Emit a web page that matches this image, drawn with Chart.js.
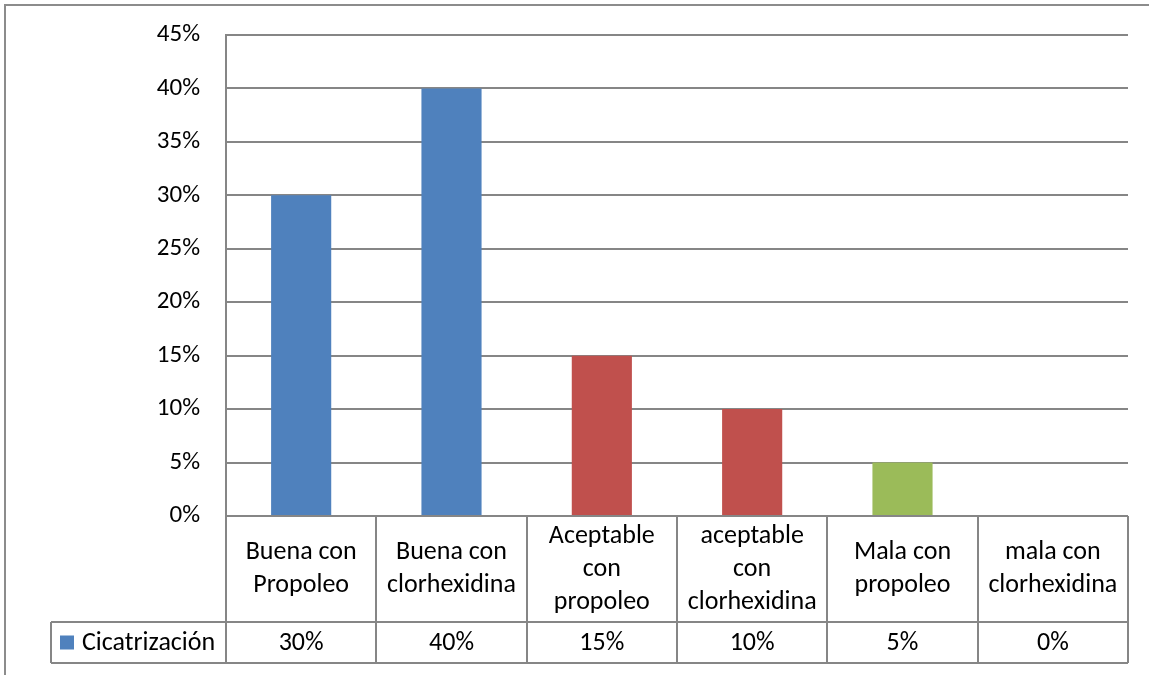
<!DOCTYPE html>
<html>
<head>
<meta charset="utf-8">
<script src="https://cdn.jsdelivr.net/npm/chart.js@4.4.1/dist/chart.umd.min.js"></script>
<style>
  html, body { margin: 0; padding: 0; background: #fff; }
  #wrap { width: 1149px; height: 675px; position: relative; }
</style>
</head>
<body>
<div id="wrap"><canvas id="c" width="1149" height="675"></canvas></div>
<script>
const categories = [
  ["Buena con", "Propoleo"],
  ["Buena con", "clorhexidina"],
  ["Aceptable", "con", "propoleo"],
  ["aceptable", "con", "clorhexidina"],
  ["Mala con", "propoleo"],
  ["mala con", "clorhexidina"]
];
const seriesName = "Cicatrización";
const values = [30, 40, 15, 10, 5, 0];
const barColors = ["#4F81BD", "#4F81BD", "#C0504D", "#C0504D", "#9BBB59", "#9BBB59"];
const yTicks = { min: 0, max: 45, step: 5 };

const FONT = "Carlito, Lato, 'Open Sans', sans-serif";
const FS = 26;
const TFS = 25;
const LINE = "#868686";

const tablePlugin = {
  id: 'dataTable',
  beforeDraw(chart) {
    const ctx = chart.ctx;
    ctx.save();
    ctx.fillStyle = '#fff';
    ctx.fillRect(0, 0, chart.width, chart.height);
    ctx.strokeStyle = '#8c8c8c';
    ctx.lineWidth = 2;
    ctx.beginPath();
    ctx.moveTo(5, chart.height);
    ctx.lineTo(5, 5);
    ctx.lineTo(chart.width, 5);
    ctx.stroke();
    ctx.restore();
  },
  afterDraw(chart) {
    const ctx = chart.ctx;
    const x = chart.scales.x;
    const area = chart.chartArea;
    const n = categories.length;
    const cw = (area.right - area.left) / n;
    const top = area.bottom;
    const headerH = 106;
    const rowH = 41;
    const legendLeft = 51;
    ctx.save();
    ctx.strokeStyle = LINE;
    ctx.lineWidth = 2;
    ctx.beginPath();
    ctx.moveTo(area.left, top); ctx.lineTo(area.right, top);
    ctx.moveTo(legendLeft, top + headerH); ctx.lineTo(area.right, top + headerH);
    ctx.moveTo(legendLeft, top + headerH + rowH); ctx.lineTo(area.right, top + headerH + rowH);
    for (let i = 0; i <= n; i++) {
      const xx = Math.round(area.left + i * cw);
      ctx.moveTo(xx, top); ctx.lineTo(xx, top + headerH + rowH);
    }
    ctx.moveTo(legendLeft, top + headerH); ctx.lineTo(legendLeft, top + headerH + rowH);
    ctx.stroke();

    ctx.fillStyle = '#000';
    ctx.font = FS + 'px ' + FONT;
    ctx.textAlign = 'center';
    ctx.textBaseline = 'middle';
    const lh = 33;
    categories.forEach((lines, i) => {
      const cx = x.getPixelForValue(i);
      const cy = top + headerH / 2;
      const start = cy - (lines.length - 1) * lh / 2;
      lines.forEach((t, j) => ctx.fillText(t, cx, start + j * lh));
      ctx.fillText(values[i] + '%', cx, top + headerH + rowH / 2 + 1);
    });
    const ly = top + headerH + rowH / 2;
    ctx.fillStyle = barColors[0];
    ctx.fillRect(60, ly - 7, 14, 14);
    ctx.fillStyle = '#000';
    ctx.textAlign = 'left';
    ctx.fillText(seriesName, 82, ly + 1);
    ctx.restore();
  }
};

new Chart(document.getElementById('c'), {
  type: 'bar',
  data: {
    labels: categories.map(l => l.join(' ')),
    datasets: [{
      label: seriesName,
      data: values,
      backgroundColor: barColors,
      borderWidth: 0,
      barPercentage: 0.4,
      categoryPercentage: 1.0
    }]
  },
  options: {
    responsive: false,
    animation: false,
    devicePixelRatio: 1,
    layout: { padding: { top: 35, right: 21, bottom: 159, left: 0 } },
    plugins: { legend: { display: false }, tooltip: { enabled: false } },
    scales: {
      x: { display: false },
      y: {
        min: yTicks.min,
        max: yTicks.max,
        afterFit(s) { s.width = 226; s.paddingTop = 0; s.paddingBottom = 0; },
        ticks: {
          stepSize: yTicks.step,
          padding: 26,
          color: '#000',
          font: { family: FONT, size: TFS },
          callback: v => v + '%'
        },
        grid: { color: LINE, lineWidth: 2, drawTicks: false },
        border: { display: true, color: LINE, width: 2 }
      }
    }
  },
  plugins: [tablePlugin]
});
</script>
</body>
</html>
